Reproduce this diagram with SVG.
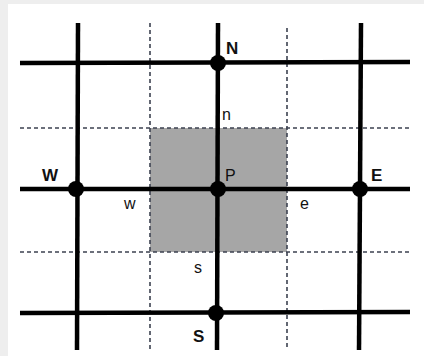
<svg xmlns="http://www.w3.org/2000/svg" width="424" height="356" viewBox="0 0 424 356">
<style>
.thick{stroke:#000;stroke-width:4.5;fill:none}
.dash{stroke:#3c4250;stroke-width:1.6;stroke-dasharray:4 3;fill:none}
.node{fill:#000}
.big{font-family:"Liberation Sans",Arial,sans-serif;font-size:17px;font-weight:bold;fill:#111}
.small{font-family:"Liberation Sans",Arial,sans-serif;font-size:16px;fill:#111}
</style>
<rect x="0" y="0" width="424" height="356" fill="#eeeeee"/>
<rect x="8" y="4" width="416" height="352" fill="#ffffff"/>
<rect id="cell" x="150" y="128" width="137" height="124" fill="#a6a6a6"/>
<g id="connectors">
<line class="dash" x1="150" y1="23" x2="150" y2="350"/>
<line class="dash" x1="287" y1="28" x2="287" y2="350"/>
<line class="dash" x1="20" y1="128" x2="410" y2="128"/>
<line class="dash" x1="20" y1="252" x2="410" y2="252"/>
<line class="thick" x1="20" y1="63" x2="410" y2="62"/>
<line class="thick" x1="20" y1="189" x2="410" y2="189"/>
<line class="thick" x1="20" y1="313" x2="410" y2="312"/>
<line class="thick" x1="78" y1="23" x2="77" y2="350"/>
<line class="thick" x1="218" y1="23" x2="217" y2="350"/>
<line class="thick" x1="361" y1="23" x2="359" y2="350"/>
</g>
<g id="N"><circle class="node" cx="218" cy="63" r="8"/><text class="big" x="226" y="54">N</text></g>
<g id="W"><circle class="node" cx="76" cy="189" r="8"/><text class="big" x="42" y="181">W</text></g>
<g id="P"><circle class="node" cx="218" cy="189" r="8"/><text class="small" x="225" y="181">P</text></g>
<g id="E"><circle class="node" cx="360" cy="189" r="8"/><text class="big" x="371" y="181">E</text></g>
<g id="S"><circle class="node" cx="216" cy="313" r="8"/><text class="big" x="193" y="342">S</text></g>
<g id="n"><text class="small" x="222" y="120">n</text></g>
<g id="w"><text class="small" x="124" y="209">w</text></g>
<g id="e"><text class="small" x="300" y="209">e</text></g>
<g id="s"><text class="small" x="194" y="273">s</text></g>
</svg>
